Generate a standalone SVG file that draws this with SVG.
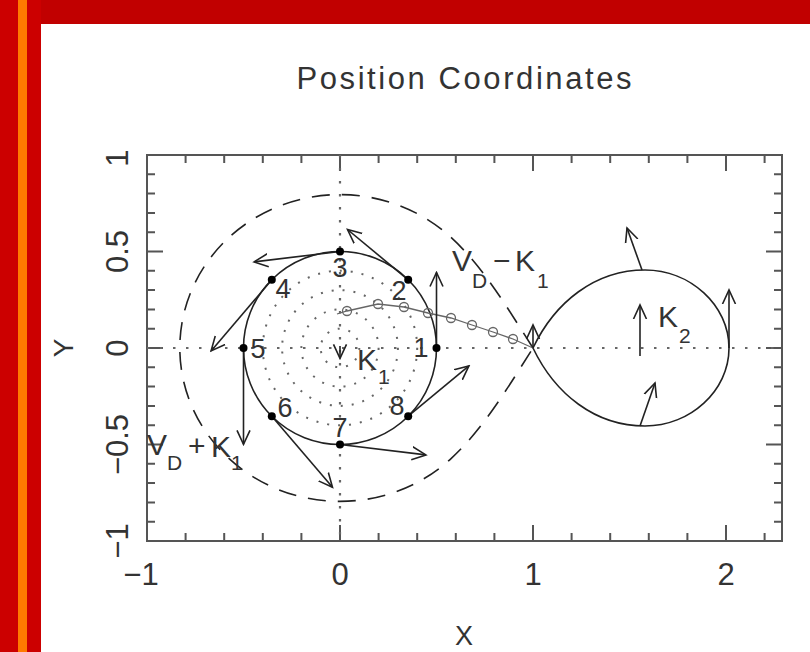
<svg xmlns="http://www.w3.org/2000/svg" width="810" height="652" viewBox="0 0 810 652">
<style>
.ln{fill:none;stroke:#222;stroke-width:1.6}
.fr{fill:none;stroke:#555;stroke-width:2}
.dot{fill:none;stroke:#666;stroke-width:2.2;stroke-dasharray:2.5 10.5}
.ring{fill:none;stroke:#666;stroke-width:2;stroke-dasharray:2 9}
.dash{fill:none;stroke:#222;stroke-width:1.6;stroke-dasharray:18 12}
.st{fill:none;stroke:#666;stroke-width:1.3}
.t{font-family:"Liberation Sans",Arial,sans-serif;fill:#333}
.tick{font-size:31px;text-anchor:middle}
.num{font-size:27px;text-anchor:middle}
.lab{font-size:30px}
.sub{font-size:21px}
.pt{fill:#000}
.arr{fill:none;stroke:#222;stroke-width:1.6;marker-end:url(#ah)}
</style>
<defs>
<marker id="ah" markerUnits="userSpaceOnUse" markerWidth="16" markerHeight="16" refX="14" refY="7" orient="auto" viewBox="0 0 16 14">
<path d="M0,0.5 L14,7 L0,13.5" fill="none" stroke="#222" stroke-width="1.6"/>
</marker>
</defs>
<rect width="810" height="652" fill="#fff"/>
<g id="border">
<rect x="0" y="0" width="810" height="24" fill="#c10000"/>
<rect x="0" y="0" width="41" height="652" fill="#cc0000"/>
<rect x="18" y="0" width="9" height="652" fill="#ff7a00"/>
</g>
<g id="title"><text class="t" x="464" y="89" font-size="31" text-anchor="middle" textLength="335" lengthAdjust="spacing">Position Coordinates</text></g>
<g id="axes">
<rect class="fr" x="147" y="155" width="635" height="386"/>
<path class="fr" d="M185.6 155v8M224.2 155v8M262.8 155v8M301.4 155v8M378.6 155v8M417.2 155v8M455.8 155v8M494.4 155v8M571.6 155v8M610.2 155v8M648.8 155v8M687.4 155v8M764.6 155v8M340 155v16M533 155v16M726 155v16
M185.6 541v-8M224.2 541v-8M262.8 541v-8M301.4 541v-8M378.6 541v-8M417.2 541v-8M455.8 541v-8M494.4 541v-8M571.6 541v-8M610.2 541v-8M648.8 541v-8M687.4 541v-8M764.6 541v-8M340 541v-16M533 541v-16M726 541v-16
M147 174.3h8M147 193.6h8M147 212.9h8M147 232.2h8M147 270.8h8M147 290.1h8M147 309.4h8M147 328.7h8M147 367.3h8M147 386.6h8M147 405.9h8M147 425.2h8M147 463.8h8M147 483.1h8M147 502.4h8M147 521.7h8M147 251.5h16M147 348h16M147 444.5h16
M782 174.3h-8M782 193.6h-8M782 212.9h-8M782 232.2h-8M782 270.8h-8M782 290.1h-8M782 309.4h-8M782 328.7h-8M782 367.3h-8M782 386.6h-8M782 405.9h-8M782 425.2h-8M782 463.8h-8M782 483.1h-8M782 502.4h-8M782 521.7h-8M782 251.5h-16M782 348h-16M782 444.5h-16"/>
<text class="t tick" x="141" y="585">−1</text>
<text class="t tick" x="340" y="585">0</text>
<text class="t tick" x="533" y="585">1</text>
<text class="t tick" x="726" y="585">2</text>
<text class="t tick" transform="translate(128,541) rotate(-90)">−1</text>
<text class="t tick" transform="translate(128,444.5) rotate(-90)">−0.5</text>
<text class="t tick" transform="translate(128,348) rotate(-90)">0</text>
<text class="t tick" transform="translate(128,251.5) rotate(-90)">0.5</text>
<text class="t tick" transform="translate(128,158) rotate(-90)">1</text>
<text class="t" font-size="27" text-anchor="middle" x="464" y="645">X</text>
<text class="t" font-size="28" text-anchor="middle" transform="translate(73,348) rotate(-90)">Y</text>
<path class="dot" d="M147 348H782M340 155V541"/>
</g>
<g id="rings">
<circle class="ring" cx="340" cy="348" r="19.3"/>
<circle class="ring" cx="340" cy="348" r="38.6"/>
<circle class="ring" cx="340" cy="348" r="57.9"/>
<circle class="ring" cx="340" cy="348" r="77.2"/>
</g>
<g id="primary-lobe"><path class="dash" d="M533 348C508.7 310.1 484 267.6 450.8 237.2A160.2 153.4 0 1 0 450.8 458.8C484 428.4 508.7 385.9 533 348Z"/></g>
<g id="secondary-lobe"><path class="ln" d="M533 348C555 302 595 270 645 270C690 270 729 305 729 348C729 391 690 426 645 426C595 426 555 394 533 348Z"/></g>
<g id="k1-circle"><circle class="ln" cx="340" cy="348" r="96.5"/></g>
<g id="stream">
<polyline class="st" points="337,314 347,311 378,304 404,307 428,313 451,318 472,325 493,332 513,339 533,348"/>
<circle class="st" cx="347" cy="311" r="4.5"/>
<circle class="st" cx="378" cy="304" r="4.5"/>
<circle class="st" cx="404" cy="307" r="4.5"/>
<circle class="st" cx="428" cy="313" r="4.5"/>
<circle class="st" cx="451" cy="318" r="4.5"/>
<circle class="st" cx="472" cy="325" r="4.5"/>
<circle class="st" cx="493" cy="332" r="4.5"/>
<circle class="st" cx="513" cy="339" r="4.5"/>
</g>
<g id="arrows">
<line class="arr" x1="436.5" y1="348" x2="436.5" y2="272.5"/>
<line class="arr" x1="408.2" y1="279.8" x2="347.5" y2="229.5"/>
<line class="arr" x1="340" y1="251.5" x2="254.1" y2="261.9"/>
<line class="arr" x1="271.8" y1="279.8" x2="211.1" y2="350.9"/>
<line class="arr" x1="243.5" y1="348" x2="243.5" y2="444.3"/>
<line class="arr" x1="271.8" y1="416.2" x2="332.5" y2="487.3"/>
<line class="arr" x1="340" y1="444.5" x2="425.9" y2="454.9"/>
<line class="arr" x1="408.2" y1="416.2" x2="468.9" y2="365.9"/>
<line class="arr" x1="340" y1="346" x2="340" y2="358.4"/>
<line class="arr" x1="533" y1="348" x2="533" y2="325"/>
<line class="arr" x1="642" y1="270" x2="627" y2="228"/>
<line class="arr" x1="640" y1="356" x2="640" y2="305"/>
<line class="arr" x1="729" y1="348" x2="729" y2="290"/>
<line class="arr" x1="640" y1="426" x2="655" y2="383"/>
</g>
<g id="point-1"><circle class="pt" cx="436.5" cy="348" r="4"/><text class="t num" x="421" y="357">1</text></g>
<g id="point-2"><circle class="pt" cx="408.2" cy="279.8" r="4"/><text class="t num" x="399" y="300">2</text></g>
<g id="point-3"><circle class="pt" cx="340" cy="251.5" r="4"/><text class="t num" x="340" y="277">3</text></g>
<g id="point-4"><circle class="pt" cx="271.8" cy="279.8" r="4"/><text class="t num" x="283" y="298">4</text></g>
<g id="point-5"><circle class="pt" cx="243.5" cy="348" r="4"/><text class="t num" x="258" y="358">5</text></g>
<g id="point-6"><circle class="pt" cx="271.8" cy="416.2" r="4"/><text class="t num" x="285" y="417">6</text></g>
<g id="point-7"><circle class="pt" cx="340" cy="444.5" r="4"/><text class="t num" x="340" y="437">7</text></g>
<g id="point-8"><circle class="pt" cx="408.2" cy="416.2" r="4"/><text class="t num" x="397" y="415">8</text></g>
<g id="labels">
<text class="t lab"><tspan x="452" y="271">V</tspan><tspan class="sub" x="472" y="288">D</tspan><tspan x="493" y="271">−</tspan><tspan x="515" y="271">K</tspan><tspan class="sub" x="537" y="288">1</tspan></text>
<text class="t lab"><tspan x="147" y="455">V</tspan><tspan class="sub" x="167" y="470">D</tspan><tspan x="188" y="456">+</tspan><tspan x="211" y="457">K</tspan><tspan class="sub" x="231" y="470">1</tspan></text>
<text class="t lab"><tspan x="357" y="370">K</tspan><tspan class="sub" x="378" y="384">1</tspan></text>
<text class="t lab"><tspan x="658" y="327">K</tspan><tspan class="sub" x="679" y="343">2</tspan></text>
</g>
</svg>
